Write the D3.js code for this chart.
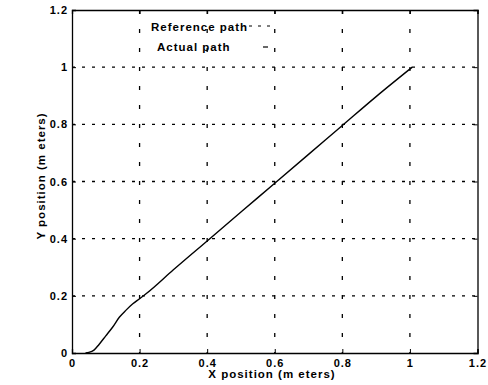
<!DOCTYPE html>
<html>
<head>
<meta charset="utf-8">
<script src="https://cdn.jsdelivr.net/npm/d3@7"></script>
<style>
  body { margin: 0; background: #fff; }
  text { font-family: "Liberation Sans", Arial, sans-serif; font-weight: bold; fill: #000; }
</style>
</head>
<body>
<script>
var xTicks = [0, 0.2, 0.4, 0.6, 0.8, 1, 1.2];
var yTicks = [0, 0.2, 0.4, 0.6, 0.8, 1, 1.2];
var pathX = [0.04, 0.05, 0.065, 0.08, 0.1, 0.12, 0.14, 0.16, 0.18, 0.2, 0.22, 0.3, 0.4, 0.5, 0.6, 0.7, 0.8, 0.9, 1.007];
var pathY = [0, 0.002, 0.01, 0.03, 0.06, 0.09, 0.125, 0.15, 0.172, 0.19, 0.208, 0.291, 0.392, 0.493, 0.594, 0.695, 0.796, 0.897, 1.0];
var legendLabels = ["Reference path", "Actual path"];

var width = 488, height = 385;
var svg = d3.select('body').append('svg')
  .attr('width', width)
  .attr('height', height);

var x = d3.scaleLinear().domain([0, 1.2]).range([72, 477.5]);
var y = d3.scaleLinear().domain([0, 1.2]).range([353, 10]);

// grid
svg.selectAll('.vgrid').data(xTicks.slice(1, -1)).enter().append('line')
  .attr('x1', function(d) { return x(d); }).attr('x2', function(d) { return x(d); })
  .attr('y1', y(1.2)).attr('y2', y(0))
  .attr('stroke', '#000').attr('stroke-width', 1.3)
  .attr('stroke-dasharray', '4,15');
svg.selectAll('.hgrid').data(yTicks.slice(1, -1)).enter().append('line')
  .attr('y1', function(d) { return y(d); }).attr('y2', function(d) { return y(d); })
  .attr('x1', x(0)).attr('x2', x(1.2))
  .attr('stroke', '#000').attr('stroke-width', 1.3)
  .attr('stroke-dasharray', '3,7');

// axes
var xAxis = d3.axisBottom(x).tickValues(xTicks).tickSize(-4).tickPadding(6)
  .tickFormat(function(d) { return d3.format('')(d); });
var yAxis = d3.axisLeft(y).tickValues(yTicks).tickSize(-4).tickPadding(4)
  .tickFormat(function(d) { return d3.format('')(d); });

var gx = svg.append('g').attr('transform', 'translate(0,' + y(0) + ')').call(xAxis);
var gy = svg.append('g').attr('transform', 'translate(' + x(0) + ',0)').call(yAxis);
svg.append('g').attr('transform', 'translate(0,' + y(1.2) + ')')
  .call(d3.axisTop(x).tickValues(xTicks).tickSize(-4).tickFormat(''));
svg.append('g').attr('transform', 'translate(' + x(1.2) + ',0)')
  .call(d3.axisRight(y).tickValues(yTicks).tickSize(-4).tickFormat(''));

svg.selectAll('.domain').attr('stroke', '#000').attr('stroke-width', 1.3);
svg.selectAll('.tick line').attr('stroke', '#000');
svg.selectAll('.tick text')
  .style('font-size', '11px').style('font-weight', 'bold')
  .style('font-family', '"Liberation Sans", Arial, sans-serif')
  .style('letter-spacing', '1px').attr('fill', '#000');

// path
var line = d3.line()
  .x(function(d, i) { return x(pathX[i]); })
  .y(function(d, i) { return y(pathY[i]); })
  .curve(d3.curveMonotoneX);
svg.append('path').datum(pathX)
  .attr('d', line)
  .attr('fill', 'none').attr('stroke', '#000').attr('stroke-width', 1.4);

// legend
svg.append('text').attr('x', 151).attr('y', 31).style('font-size', '11.5px')
  .style('letter-spacing', '1px').text(legendLabels[0]);
svg.append('text').attr('x', 157).attr('y', 51).style('font-size', '11.5px')
  .style('letter-spacing', '1px').text(legendLabels[1]);
svg.append('line').attr('x1', 249).attr('x2', 276).attr('y1', 26).attr('y2', 26)
  .attr('stroke', '#000').attr('stroke-width', 1.2).attr('stroke-dasharray', '3,6');
svg.append('line').attr('x1', 263).attr('x2', 268).attr('y1', 47).attr('y2', 47)
  .attr('stroke', '#000').attr('stroke-width', 1.2);

// axis labels
svg.append('text').attr('x', 272).attr('y', 378).attr('text-anchor', 'middle')
  .style('font-size', '11.5px').style('letter-spacing', '1px')
  .text('X position (m eters)');
svg.append('text').attr('transform', 'translate(45,176) rotate(-90)')
  .attr('text-anchor', 'middle')
  .style('font-size', '11.5px').style('letter-spacing', '1px')
  .text('Y position (m eters)');
</script>
</body>
</html>
